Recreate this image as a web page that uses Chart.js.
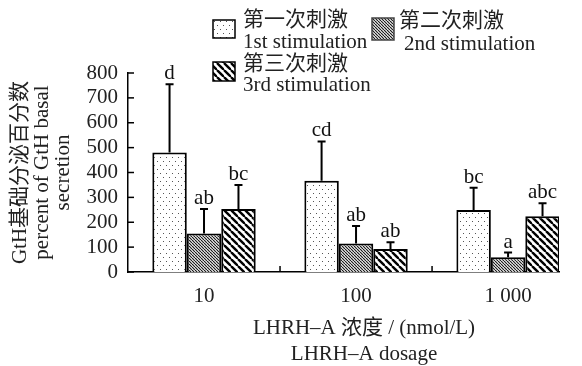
<!DOCTYPE html>
<html>
<head>
<meta charset="utf-8">
<script src="https://cdn.jsdelivr.net/npm/chart.js@4/dist/chart.umd.min.js"></script>
<style>
  html, body { margin: 0; padding: 0; background: #fff; }
  #wrap { width: 582px; height: 366px; }
</style>
</head>
<body>
<div id="wrap"><canvas id="stage" width="582" height="366"></canvas></div>
<script>
// 数据
var categories = ['10', '100', '1 000'];
var first = [480, 367, 249];
var second = [155, 115, 59];
var third = [253, 92, 224];
var firstSD = [275, 158, 90];
var secondSD = [98, 70, 19];
var thirdSD = [97, 28, 52];
var firstSig = ['d', 'cd', 'bc'];
var secondSig = ['ab', 'ab', 'a'];
var thirdSig = ['bc', 'ab', 'abc'];
var yTicks = [0, 100, 200, 300, 400, 500, 600, 700, 800];
var seriesNames = [['第一次刺激', '1st stimulation'], ['第二次刺激', '2nd stimulation'], ['第三次刺激', '3rd stimulation']];

var FONT = '"Liberation Serif", "Noto Sans CJK SC", serif';
var FS = 21;

// 填充图案
function makePattern(kind) {
    var c = document.createElement('canvas');
    var n = kind === 'dots' ? 6 : (kind === 'dense' ? 3 : 7);
    c.width = n; c.height = kind === 'dots' ? 8 : n;
    var g = c.getContext('2d');
    g.fillStyle = '#fff';
    g.fillRect(0, 0, c.width, c.height);
    if (kind === 'dots') {
        g.fillStyle = '#555';
        g.fillRect(1, 1, 1, 1);
        g.fillRect(4, 5, 1, 1);
    } else {
        g.strokeStyle = kind === 'dense' ? '#1a1a1a' : '#000';
        g.lineWidth = kind === 'dense' ? 1.2 : 2.4;
        for (var k = -n; k <= n; k += n) {
            g.beginPath();
            g.moveTo(k, 0);
            g.lineTo(k + n, n);
            g.stroke();
        }
    }
    return g.createPattern(c, 'repeat');
}
var patterns = [makePattern('dots'), makePattern('dense'), makePattern('wide')];

function points(arr) {
    return arr.map(function (v, i) { return { x: i, y: v }; });
}

var sdList = [firstSD, secondSD, thirdSD];
var sigList = [firstSig, secondSig, thirdSig];

var extras = {
    id: 'extras',
    afterDatasetsDraw: function (chart) {
        var ctx = chart.ctx;
        var ys = chart.scales.y, xs = chart.scales.x;
        ctx.save();
        ctx.strokeStyle = '#000';
        ctx.fillStyle = '#111';
        ctx.lineWidth = 2;
        ctx.font = FS + 'px ' + FONT;
        ctx.textAlign = 'center';
        ctx.textBaseline = 'alphabetic';
        chart.data.datasets.forEach(function (ds, i) {
            var meta = chart.getDatasetMeta(i);
            meta.data.forEach(function (el, j) {
                var v = ds.data[j].y;
                var top = ys.getPixelForValue(v + sdList[i][j]);
                ctx.beginPath();
                ctx.moveTo(el.x, el.y);
                ctx.lineTo(el.x, top);
                ctx.moveTo(el.x - 4, top);
                ctx.lineTo(el.x + 4, top);
                ctx.stroke();
                ctx.fillText(sigList[i][j], el.x, top - 5);
            });
        });
        // 内向刻度
        ctx.lineWidth = 1.5;
        var x0 = chart.chartArea.left, y0 = chart.chartArea.bottom;
        yTicks.forEach(function (t) {
            var py = ys.getPixelForValue(t);
            ctx.beginPath();
            ctx.moveTo(x0, py);
            ctx.lineTo(x0 + 6, py);
            ctx.stroke();
        });
        [0.5, 1.5].forEach(function (t) {
            var px = xs.getPixelForValue(t);
            ctx.beginPath();
            ctx.moveTo(px, y0);
            ctx.lineTo(px, y0 - 6);
            ctx.stroke();
        });
        // x 轴标题
        ctx.fillStyle = '#222';
        ctx.textBaseline = 'middle';
        ctx.fillText('LHRH\u2013A 浓度 / (nmol/L)', 364, 328);
        ctx.fillText('LHRH\u2013A dosage', 364, 354);
        // 图例
        var boxes = [[213, 20, 22, 18, 243], [372, 18, 22, 22, 399], [213, 62, 22, 19, 243]];
        var textY = [[20, 42], [21, 44], [64, 85]];
        ctx.textAlign = 'left';
        boxes.forEach(function (b, i) {
            ctx.fillStyle = patterns[i];
            ctx.fillRect(b[0], b[1], b[2], b[3]);
            ctx.lineWidth = 1.5;
            ctx.strokeStyle = i === 1 ? '#444' : '#000';
            ctx.strokeRect(b[0], b[1], b[2], b[3]);
            ctx.fillStyle = '#222';
            ctx.fillText(seriesNames[i][0], b[4], textY[i][0]);
            ctx.fillText(seriesNames[i][1], b[4] + (i === 1 ? 5 : 0), textY[i][1]);
        });
        ctx.restore();
    }
};

var mydata = {
    datasets: [0, 1, 2].map(function (i) {
        return {
            label: seriesNames[i][1],
            data: points([first, second, third][i]),
            backgroundColor: patterns[i],
            borderColor: '#000',
            borderWidth: 2,
            borderSkipped: 'bottom'
        };
    })
};

var canvas = document.getElementById('stage');
var chart = new Chart(canvas, {
    type: 'bar',
    data: mydata,
    plugins: [extras],
    options: {
        responsive: false,
        animation: false,
        layout: { padding: { top: 73, right: 23, left: 10, bottom: 0 } },
        categoryPercentage: 0.68,
        barPercentage: 1,
        plugins: { legend: { display: false }, tooltip: { enabled: false } },
        scales: {
            x: {
                type: 'linear',
                offset: false,
                min: -0.5,
                max: 2.335,
                afterBuildTicks: function (s) {
                    s.ticks = categories.map(function (c, i) { return { value: i }; });
                },
                afterFit: function (s) { s.height = 94; },
                grid: { display: false, drawTicks: false, offset: false },
                border: { display: true, color: '#000', width: 1.5 },
                ticks: {
                    padding: 12,
                    autoSkip: false,
                    maxRotation: 0,
                    color: '#222',
                    font: { family: FONT, size: FS },
                    callback: function (v) { return categories[v]; }
                }
            },
            y: {
                min: 0,
                max: 800,
                afterBuildTicks: function (s) {
                    s.ticks = yTicks.map(function (v) { return { value: v }; });
                },
                afterFit: function (s) { s.width = 118; },
                grid: { display: false, drawTicks: false },
                border: { display: true, color: '#000', width: 1.5 },
                ticks: {
                    padding: 10,
                    autoSkip: false,
                    color: '#222',
                    font: { family: FONT, size: FS }
                },
                title: {
                    display: true,
                    text: ['GtH基础分泌百分数', 'percent of GtH basal', 'secretion'],
                    color: '#222',
                    font: { family: FONT, size: FS, lineHeight: 1.02 },
                    padding: 0
                }
            }
        }
    }
});
</script>
</body>
</html>
